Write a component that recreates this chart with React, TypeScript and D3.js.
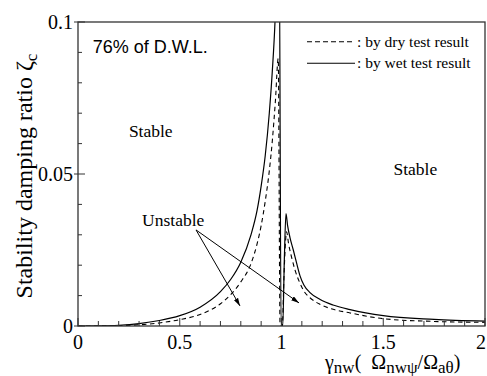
import React from 'react';
import * as d3 from 'd3';

// wet test result (solid)
const wetGamma = [0, 0.1, 0.2, 0.3, 0.4, 0.5, 0.6, 0.7, 0.75, 0.8, 0.85, 0.88, 0.9, 0.92, 0.94, 0.955, 0.968, 0.98, 0.9885,
  0.998, 1.006, 1.014, 1.022, 1.03, 1.042, 1.058, 1.075, 1.091, 1.11, 1.14, 1.19, 1.253, 1.337, 1.5, 1.75, 2.0];
const wetZeta = [0, 0.00005, 0.00025, 0.0008, 0.0018, 0.0034, 0.0062, 0.0113, 0.0153, 0.021, 0.03, 0.038, 0.046, 0.056, 0.07, 0.084, 0.1, 0.125, 0.13,
  0, 0, 0.022, 0.037, 0.033, 0.029, 0.025, 0.0205, 0.0165, 0.0135, 0.011, 0.0087, 0.0069, 0.0054, 0.0034, 0.0022, 0.0016];

// dry test result (dashed)
const dryGamma = [0, 0.1, 0.2, 0.3, 0.4, 0.5, 0.6, 0.7, 0.75, 0.8, 0.85, 0.88, 0.9, 0.92, 0.94, 0.955, 0.97, 0.984,
  0.993, 1.004, 1.012, 1.02, 1.025, 1.035, 1.05, 1.066, 1.09, 1.11, 1.14, 1.19, 1.253, 1.337, 1.5, 1.75, 2.0];
const dryZeta = [0, 0.00002, 0.00012, 0.0004, 0.001, 0.0021, 0.0038, 0.0073, 0.0103, 0.0145, 0.0205, 0.027, 0.033, 0.041, 0.051, 0.061, 0.074, 0.088,
  0, 0, 0.016, 0.028, 0.031, 0.027, 0.0225, 0.0185, 0.0142, 0.0115, 0.0093, 0.0071, 0.0055, 0.0043, 0.0024, 0.0015, 0.0012];

const xTicks = [0, 0.5, 1, 1.5, 2];
const xTickLabels = ['0', '0.5', '1', '1.5', '2'];
const yTicks = [0, 0.05, 0.1];
const yTickLabels = ['0', '0.05', '0.1'];
const legendLabels = [': by dry test result', ': by wet test result'];

const W = 487, H = 376;
const serif = 'Liberation Serif';
const sans = 'Liberation Sans';

export default function App() {
  const x = d3.scaleLinear().domain([0, 2]).range([78, 485]);
  const y = d3.scaleLinear().domain([0, 0.1]).range([326, 22]);

  const path = (gs: number[], zs: number[]) =>
    d3.line<number>()
      .x(i => x(gs[i]))
      .y(i => y(zs[i]))
      .curve(d3.curveMonotoneX)(d3.range(gs.length)) || '';

  const minorX = d3.range(1, 20).map(i => i / 10).filter(v => Math.abs(v * 2 - Math.round(v * 2)) > 1e-6);
  const minorY = d3.range(1, 10).map(i => i / 100).filter(v => Math.abs(v - 0.05) > 1e-6);

  // annotation anchors (data units)
  const arrowFrom: [number, number] = [0.58, 0.0316];
  const arrowTo: [number, number][] = [[0.796, 0.0066], [1.086, 0.0076]];

  const axisColor = '#333';

  return (
    <svg width={W} height={H} style={{ position: 'absolute', left: 0, top: 0, background: '#fff' }}>
      <defs>
        <clipPath id="plot">
          <rect x={x(0)} y={y(0.1)} width={x(2) - x(0)} height={y(0) - y(0.1)} />
        </clipPath>
        <marker id="arr" viewBox="0 0 10 6" refX="10" refY="3" markerWidth="8" markerHeight="5" orient="auto" markerUnits="userSpaceOnUse">
          <path d="M0,0 L10,3 L0,6 Z" fill="#000" />
        </marker>
      </defs>

      <g clipPath="url(#plot)" fill="none" stroke="#000">
        <path d={path(dryGamma, dryZeta)} strokeWidth={1.1} strokeDasharray="4.5,3.5" />
        <path d={path(wetGamma, wetZeta)} strokeWidth={1.2} />
      </g>

      {/* frame */}
      <rect x={x(0)} y={y(0.1)} width={x(2) - x(0)} height={y(0) - y(0.1)} fill="none" stroke={axisColor} strokeWidth={1.3} />

      {/* ticks */}
      <g stroke={axisColor} strokeWidth={1}>
        {minorX.map(v => <line key={'mx' + v} x1={x(v)} x2={x(v)} y1={y(0)} y2={y(0) - 5} />)}
        {xTicks.map(v => <line key={'Mx' + v} x1={x(v)} x2={x(v)} y1={y(0)} y2={y(0) - 8} />)}
        {minorY.map(v => <line key={'my' + v} x1={x(0)} x2={x(0) + 4} y1={y(v)} y2={y(v)} />)}
        {yTicks.map(v => <line key={'My' + v} x1={x(0) - 4} x2={x(0) + 7} y1={y(v)} y2={y(v)} />)}
      </g>

      {xTicks.map((v, i) => (
        <text key={'xl' + v} x={Math.min(x(v), W - 6)} y={y(0) + 23} textAnchor="middle" fontFamily={serif} fontSize={20}>{xTickLabels[i]}</text>
      ))}
      {yTicks.map((v, i) => (
        <text key={'yl' + v} x={x(0) - 5} y={y(v) + 7} textAnchor="end" fontFamily={serif} fontSize={20}>{yTickLabels[i]}</text>
      ))}

      {/* axis titles */}
      <text transform={`translate(32,${(y(0) + y(0.1)) / 2 + 2}) rotate(-90)`} textAnchor="middle" fontFamily={serif} fontSize={24}>
        Stability damping ratio ζ<tspan fontSize={17} dy={5}>c</tspan>
      </text>
      <text x={325} y={369} fontFamily={serif} fontSize={20}>
        γ<tspan fontSize={17} dy={4}>nw</tspan><tspan dy={-4}>(</tspan><tspan dx={10}>Ω</tspan><tspan fontSize={17} dy={4}>nwψ</tspan><tspan dy={-4}>/Ω</tspan><tspan fontSize={17} dy={4}>aθ</tspan><tspan dy={-4}>)</tspan>
      </text>

      {/* annotations */}
      <text x={x(0.072)} y={y(0.0898)} fontFamily={sans} fontSize={18}>76% of D.W.L.</text>
      <text x={x(0.25)} y={y(0.0622)} fontFamily={serif} fontSize={17.5}>Stable</text>
      <text x={x(1.55)} y={y(0.0497)} fontFamily={serif} fontSize={17.5}>Stable</text>
      <text x={x(0.315)} y={y(0.0329)} fontFamily={serif} fontSize={17.5}>Unstable</text>
      <g stroke="#000" strokeWidth={1}>
        {arrowTo.map((t, i) => (
          <line key={'a' + i} x1={x(arrowFrom[0])} y1={y(arrowFrom[1])} x2={x(t[0])} y2={y(t[1])} markerEnd="url(#arr)" />
        ))}
      </g>

      {/* legend */}
      {legendLabels.map((lab, i) => (
        <g key={lab} transform={`translate(307,${41.7 + i * 21.6})`}>
          <line x1={0} x2={48} y1={0} y2={0} stroke="#000" strokeWidth={1.1} strokeDasharray={i === 0 ? '5,3' : undefined} />
          <text x={50} y={4.8} fontFamily={serif} fontSize={15.5}>{lab}</text>
        </g>
      ))}
    </svg>
  );
}
